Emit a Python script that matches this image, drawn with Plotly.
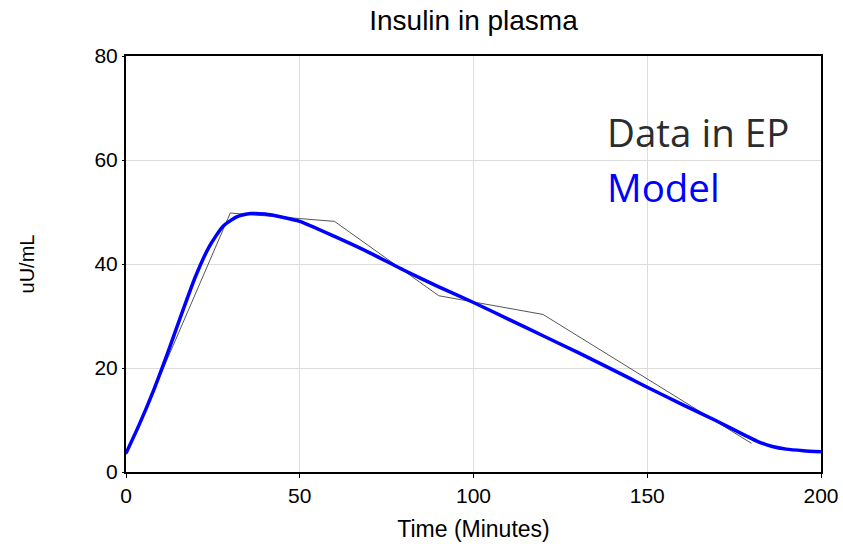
import plotly.graph_objects as go

# Data
data_time = [0, 30, 60, 90, 120, 180]
data_insulin = [3.3, 49.8, 48.2, 33.9, 30.3, 5.5]

model_time = [0, 4, 8, 12, 16, 20, 24, 28, 32, 36, 40, 45, 50, 60, 70, 80, 90, 100,
              110, 120, 130, 145, 150, 160, 170, 178, 182, 186, 190, 195, 200]
model_insulin = [3.6, 9.4, 15.8, 22.9, 30.4, 37.6, 43.4, 47.3, 49.1, 49.7, 49.6, 49.0, 48.2,
                 45.3, 42.2, 38.8, 35.6, 32.6, 29.4, 26.2, 23.0, 18.0, 16.3, 13.0,
                 9.8, 7.1, 5.8, 4.9, 4.4, 4.1, 3.9]

x_ticks = [0, 50, 100, 150, 200]
y_ticks = [0, 20, 40, 60, 80]

fig = go.Figure()
fig.add_trace(go.Scatter(x=data_time, y=data_insulin, mode="lines",
                         line=dict(color="#555555", width=1), name="Data in EP",
                         showlegend=False))
fig.add_trace(go.Scatter(x=model_time, y=model_insulin, mode="lines",
                         line=dict(color="#0000ff", width=3.5, shape="spline", smoothing=0.6),
                         name="Model", showlegend=False))

font_ticks = dict(family="Liberation Sans, Arial", size=21, color="#000000")

fig.update_layout(
    width=843, height=544,
    margin=dict(l=126, r=22, t=56, b=72, autoexpand=False),
    paper_bgcolor="white", plot_bgcolor="white",
    title=dict(text="Insulin in plasma", xref="paper", x=0.5, xanchor="center",
               yref="container", y=0.963, yanchor="middle",
               font=dict(family="Liberation Sans, Arial", size=28, color="#000000")),
    xaxis=dict(range=[0, 200], tickvals=x_ticks, showgrid=True, gridcolor="#dcdcdc", gridwidth=1,
               showline=True, linecolor="black", linewidth=2, mirror=True,
               ticks="outside", ticklen=4, tickcolor="black", tickfont=font_ticks,
               ticklabeloverflow="allow",
               zeroline=False, automargin=False,
               title=dict(text="Time (Minutes)", font=dict(family="Liberation Sans, Arial", size=23, color="#000000"), standoff=15)),
    yaxis=dict(range=[0, 80], tickvals=y_ticks, showgrid=True, gridcolor="#dcdcdc", gridwidth=1,
               showline=True, linecolor="black", linewidth=2, mirror=True,
               ticks="outside", ticklen=2, tickcolor="black", tickfont=font_ticks,
               zeroline=False, automargin=False,
               title=dict(text="uU/mL", font=dict(family="Liberation Sans, Arial", size=20, color="#000000"), standoff=54)),
    annotations=[
        dict(text="Data in EP", x=137.9, y=65.4, xref="x", yref="y", xanchor="left", yanchor="middle",
             showarrow=False, font=dict(family="Open Sans", size=38.5, color="#2a2d30")),
        dict(text="Model", x=137.9, y=54.8, xref="x", yref="y", xanchor="left", yanchor="middle",
             showarrow=False, font=dict(family="Open Sans", size=38.5, color="#0000ff")),
    ],
)

fig.write_html("out.html", config={"displayModeBar": False},
               post_script="document.body.style.margin='0';document.body.style.overflow='hidden';")
